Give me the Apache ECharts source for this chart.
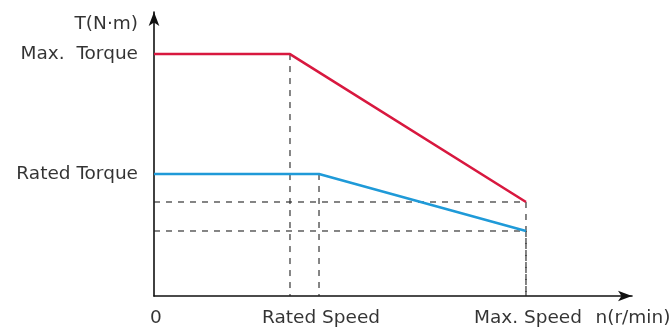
<!DOCTYPE html>
<html><head><meta charset="utf-8">
<script src="https://cdn.jsdelivr.net/npm/echarts@6/dist/echarts.min.js"></script>
<style>html,body{margin:0;padding:0;background:#fff}#c{width:671px;height:331px}</style>
</head><body><div id="c"></div>
<script>
// Data (abstract units: axis 0..100)
const maxTorqueCurve = [[0, 85.2], [28.45, 85.2], [77.82, 33.1]];
const ratedTorqueCurve = [[0, 42.96], [34.52, 42.96], [77.82, 22.89]];
const speedLabels = ['0', 'Rated Speed', 'Max. Speed'];
const speedLabelX = [0, 34.52, 77.82];
const torqueLabels = ['Max.  Torque', 'Rated Torque'];
const torqueLabelY = [85.2, 42.96];
const xName = 'n(r/min)';
const yName = 'T(N·m)';

const FONT = 'DejaVu Sans';
const textStyle = { color: '#000', fontSize: 18.5, fontFamily: FONT };
const dashStyle = { color: '#222', width: 1.1, type: [6, 6] };

// guide lines derived from curve points
const guides = [];
[maxTorqueCurve, ratedTorqueCurve].forEach(c => {
  const corner = c[1], end = c[2];
  guides.push([[corner[0], corner[1]], [corner[0], 0]]);
  guides.push([[end[0], end[1]], [end[0], 0]]);
  guides.push([[0, end[1]], [end[0], end[1]]]);
});

const series = [];
guides.forEach(g => series.push({
  type: 'line', data: g, symbol: 'none', silent: true,
  lineStyle: dashStyle, z: 1
}));
series.push({ type: 'line', data: maxTorqueCurve, symbol: 'none',
  lineStyle: { color: '#d8183f', width: 2.6 }, z: 3 });
series.push({ type: 'line', data: ratedTorqueCurve, symbol: 'none',
  lineStyle: { color: '#1f9ad8', width: 2.6 }, z: 3 });
// text labels
series.push({ type: 'scatter', symbolSize: 0, silent: true,
  data: speedLabels.map((t, i) => ({ value: [speedLabelX[i], 0], name: t })),
  label: { show: true, position: 'bottom', distance: 13, offset: [2, 0], formatter: p => p.name, ...textStyle } });
series.push({ type: 'scatter', symbolSize: 0, silent: true,
  data: torqueLabels.map((t, i) => ({ value: [0, torqueLabelY[i]], name: t })),
  label: { show: true, position: 'left', distance: 16, formatter: p => p.name, ...textStyle } });
series.push({ type: 'scatter', symbolSize: 0, silent: true,
  data: [{ value: [100, 0], name: xName }],
  label: { show: true, position: 'bottom', distance: 13, offset: [1, 0], formatter: p => p.name, ...textStyle } });
series.push({ type: 'scatter', symbolSize: 0, silent: true,
  data: [{ value: [0, 100], name: yName }],
  label: { show: true, position: 'left', distance: 16, offset: [0, 12], formatter: p => p.name, ...textStyle } });

const chart = echarts.init(document.getElementById('c'));
chart.setOption({
  animation: false,
  grid: { left: 154, right: 39, top: 12, bottom: 35 },
  xAxis: { type: 'value', min: 0, max: 100, splitLine: { show: false },
    axisTick: { show: false }, axisLabel: { show: false },
    axisLine: { lineStyle: { color: '#111', width: 1.6 }, symbol: ['none', 'arrow'], symbolSize: [8, 14] } },
  yAxis: { type: 'value', min: 0, max: 100, splitLine: { show: false },
    axisTick: { show: false }, axisLabel: { show: false },
    axisLine: { lineStyle: { color: '#111', width: 1.6 }, symbol: ['none', 'arrow'], symbolSize: [8, 14] } },
  series
});
</script></body></html>
